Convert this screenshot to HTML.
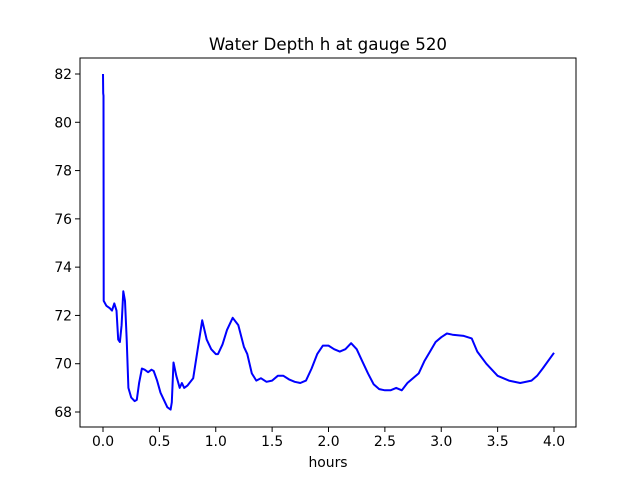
<!DOCTYPE html>
<html><head><meta charset="utf-8"><style>body{margin:0;background:#fff}svg{display:block;font-family:"DejaVu Sans","Liberation Sans",sans-serif}</style></head>
<body>
<svg id="c" width="640" height="480"></svg>
<script>
const xs=[0,0.002,0.004,0.006,0.03,0.06,0.08,0.1,0.12,0.135,0.15,0.165,0.18,0.195,0.21,0.225,0.25,0.28,0.3,0.32,0.345,0.37,0.4,0.43,0.45,0.48,0.51,0.54,0.57,0.6,0.61,0.625,0.65,0.68,0.7,0.72,0.75,0.8,0.84,0.88,0.92,0.96,1.0,1.02,1.06,1.1,1.15,1.2,1.25,1.28,1.32,1.36,1.4,1.45,1.5,1.55,1.6,1.65,1.7,1.75,1.8,1.85,1.9,1.95,2.0,2.05,2.1,2.15,2.2,2.25,2.3,2.35,2.4,2.45,2.5,2.55,2.6,2.65,2.7,2.8,2.85,2.9,2.95,3.0,3.05,3.1,3.2,3.27,3.32,3.4,3.5,3.6,3.7,3.8,3.85,3.9,4.0];
const ys=[82,81.2,81.1,72.6,72.4,72.3,72.2,72.5,72.2,71.0,70.9,71.6,73.0,72.6,71.0,69.0,68.6,68.45,68.5,69.2,69.8,69.75,69.65,69.75,69.7,69.3,68.8,68.5,68.2,68.1,68.4,70.05,69.5,69.0,69.2,69.0,69.1,69.4,70.6,71.8,71.0,70.6,70.4,70.4,70.8,71.4,71.9,71.6,70.7,70.4,69.6,69.3,69.4,69.25,69.3,69.5,69.5,69.35,69.25,69.2,69.3,69.8,70.4,70.75,70.75,70.6,70.5,70.6,70.85,70.6,70.1,69.6,69.15,68.95,68.9,68.9,69.0,68.9,69.2,69.6,70.1,70.5,70.9,71.1,71.25,71.2,71.15,71.05,70.5,70.0,69.5,69.3,69.2,69.3,69.5,69.8,70.45];
const xticks=[0,0.5,1,1.5,2,2.5,3,3.5,4];
const yticks=[68,70,72,74,76,78,80,82];
const X=v=>103+v*112.75, Y=v=>412-(v-68)*24.143;
const s=document.getElementById('c');const NS='http://www.w3.org/2000/svg';
function el(t,a,txt){const e=document.createElementNS(NS,t);for(const k in a)e.setAttribute(k,a[k]);if(txt!==undefined)e.textContent=txt;s.appendChild(e);return e;}
let d=xs.map((x,i)=>(i?'L':'M')+X(x).toFixed(1)+','+Y(ys[i]).toFixed(1)).join('');
let p=el('path',{d:d,fill:'none',stroke:'#0000ff','stroke-width':2,'stroke-linejoin':'round'});


let f=el('rect',{x:80,y:58,width:496,height:369,fill:'none',stroke:'#000','stroke-width':1});


xticks.forEach(v=>{el('line',{x1:X(v),x2:X(v),y1:427,y2:432,stroke:'#000','stroke-width':1});
let t=el('text',{x:X(v),y:446,'font-size':13.9,'text-anchor':'middle'},v.toFixed(1));

});
yticks.forEach(v=>{el('line',{x1:75,x2:80,y1:Y(v),y2:Y(v),stroke:'#000','stroke-width':1});
let t=el('text',{x:72,y:Y(v)+5,'font-size':13.9,'text-anchor':'end'},v);

});
let ti=el('text',{x:328,y:50,'font-size':16.7,'text-anchor':'middle'},'Water Depth h at gauge 520');


let xl=el('text',{x:328,y:467,'font-size':13.9,'text-anchor':'middle'},'hours');


</script>
</body></html>
